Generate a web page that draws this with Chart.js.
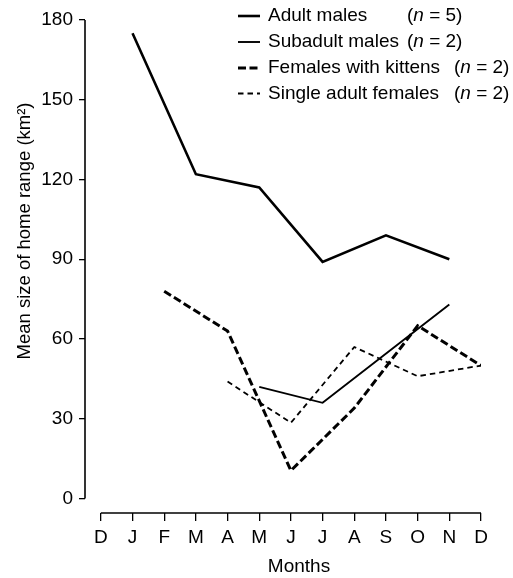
<!DOCTYPE html>
<html><head><meta charset="utf-8">
<script src="https://cdn.jsdelivr.net/npm/chart.js@4"></script>
<style>html,body{margin:0;padding:0;background:#fff;overflow:hidden}</style>
</head><body>
<canvas id="c" width="513" height="578" style="width:513px;height:578px;display:block"></canvas>
<script>
// ---- data ----
const months = ['D','J','F','M','A','M','J','J','A','S','O','N','D'];
const yTickValues = [0,30,60,90,120,150,180];
const adultMales     = [null,175,null,122,null,117,null,89,null,99,null,90,null];
const subadultMales  = [null,null,null,null,null,42,null,36,null,null,null,73,null];
const femalesKittens = [null,null,78,null,63,null,10.5,null,34,null,65,null,50];
const singleFemales  = [null,null,null,null,44,null,28.5,null,57,null,46,null,50];
const seriesLabels = ['Adult males','Subadult males','Females with kittens','Single adult females'];
const seriesN = [5,2,2,2];
const xTitle = 'Months';
const yTitle = 'Mean size of home range (km\u00B2)';

const FONT = '"Liberation Sans", Arial, sans-serif';
const toPts = arr => arr.map((v,i)=>({x:i,y:v}));

const styles = [
  {w:2.6, dash:[]},
  {w:1.9, dash:[]},
  {w:3.0, dash:[8,3.5]},
  {w:1.8, dash:[5.5,4]}
];
const allSeries = [adultMales, subadultMales, femalesKittens, singleFemales];

const datasets = allSeries.map((s,k)=>({
  label: seriesLabels[k],
  data: toPts(s),
  borderColor:'#000',
  borderWidth: styles[k].w,
  borderDash: styles[k].dash,
  pointRadius:0,
  fill:false,
  tension:0,
  spanGaps:true,
  borderJoinStyle:'miter'
}));

const decor = {
  id:'decor',
  afterDraw(chart){
    const ctx = chart.ctx, xs = chart.scales.x, ys = chart.scales.y, ca = chart.chartArea;
    ctx.save();
    ctx.strokeStyle='#000'; ctx.setLineDash([]);
    // y axis line (detached)
    ctx.lineWidth=1.6;
    ctx.beginPath();
    ctx.moveTo(ca.left, ys.getPixelForValue(180));
    ctx.lineTo(ca.left, ys.getPixelForValue(0));
    ctx.stroke();
    // x axis line (detached)
    ctx.lineWidth=1.4;
    ctx.beginPath();
    ctx.moveTo(xs.getPixelForValue(0), ca.bottom);
    ctx.lineTo(xs.getPixelForValue(12), ca.bottom);
    ctx.stroke();
    // titles
    ctx.fillStyle='#000';
    ctx.font = '19px '+FONT;
    ctx.textAlign='center'; ctx.textBaseline='middle';
    ctx.fillText(xTitle, 299, 567);
    ctx.save();
    ctx.translate(25, 231);
    ctx.rotate(-Math.PI/2);
    ctx.font = '18.5px '+FONT;
    ctx.fillText(yTitle, 0, 0);
    ctx.restore();
    // legend
    const rowY = [16, 42, 68, 93.5];
    const nX = [407, 402, 454, 454];
    ctx.textAlign='left';
    for (let k=0;k<4;k++){
      const y = rowY[k];
      ctx.lineWidth = styles[k].w;
      ctx.setLineDash(styles[k].dash);
      ctx.beginPath(); ctx.moveTo(238,y); ctx.lineTo(260,y); ctx.stroke();
      ctx.setLineDash([]);
      ctx.font='19px '+FONT;
      ctx.fillText(seriesLabels[k], 268, y);
      let x = Math.max(nX[k], 268 + ctx.measureText(seriesLabels[k]).width + 8);
      ctx.fillText('(', x, y); x += ctx.measureText('(').width;
      ctx.font='italic 19px '+FONT;
      ctx.fillText('n', x, y); x += ctx.measureText('n').width;
      ctx.font='19px '+FONT;
      ctx.fillText(' = '+seriesN[k]+')', x, y);
    }
    ctx.restore();
  }
};

new Chart(document.getElementById('c'), {
  type:'line',
  data:{datasets},
  options:{
    responsive:false,
    animation:false,
    layout:{padding:{top:20,right:32,bottom:0,left:0}},
    plugins:{legend:{display:false}, tooltip:{enabled:false}},
    scales:{
      x:{
        type:'linear', min:-0.5, max:12,
        afterBuildTicks: s => { s.ticks = months.map((m,i)=>({value:i})); },
        afterFit: s => { s.height = 65; },
        ticks:{ callback:(v)=>months[v], color:'#000', font:{family:FONT,size:19}, padding:5, autoSkip:false, maxRotation:0 },
        grid:{ display:true, drawOnChartArea:false, drawTicks:true, tickLength:8, color:'#000', lineWidth:1.3 },
        border:{ display:false }
      },
      y:{
        type:'linear', min:-5.45, max:180,
        afterBuildTicks: s => { s.ticks = yTickValues.map(v=>({value:v})); },
        afterFit: s => { s.width = 85; },
        ticks:{ color:'#000', font:{family:FONT,size:19}, padding:6 },
        grid:{ display:true, drawOnChartArea:false, drawTicks:true, tickLength:6, color:'#000', lineWidth:1.3 },
        border:{ display:false }
      }
    }
  },
  plugins:[decor]
});
</script>
</body></html>
